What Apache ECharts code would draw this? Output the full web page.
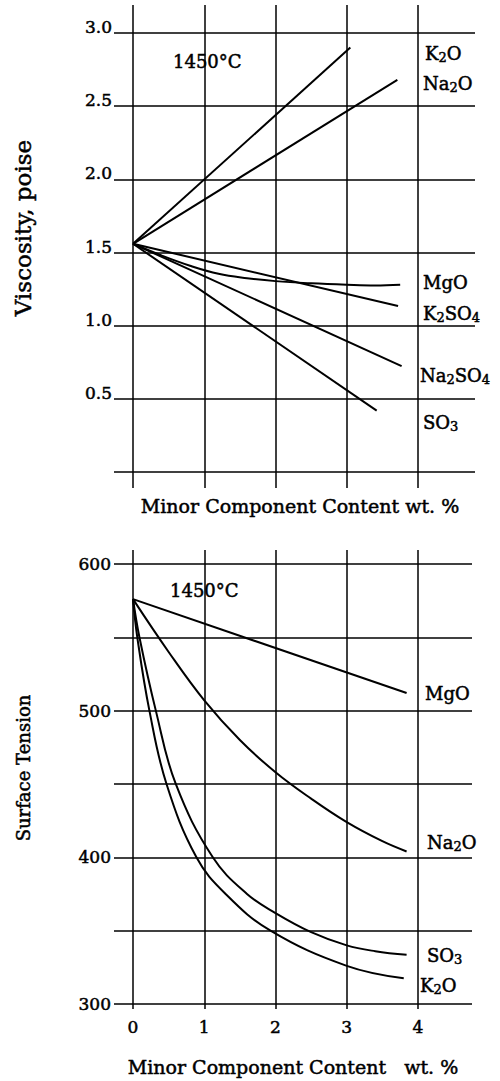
<!DOCTYPE html>
<html>
<head>
<meta charset="utf-8">
<title>Viscosity and surface tension vs minor component content</title>
<script src="https://cdn.jsdelivr.net/npm/echarts@6/dist/echarts.min.js"></script>
<style>
  html, body { margin: 0; padding: 0; background: #fff; }
  #chart { width: 500px; height: 1081px; }
</style>
</head>
<body>
<div id="chart"></div>
<script>
// minor component content, wt. % (grid columns)
const contentTicks = [0, 1, 2, 3, 4];

// top chart: viscosity, poise (1450 C)
const viscGridTicks = [0, 0.5, 1.0, 1.5, 2.0, 2.5, 3.0];
const viscTickLabels = [0.5, 1.0, 1.5, 2.0, 2.5, 3.0];
const viscK2O = [[0, 1.56], [3.05, 2.90]];
const viscNa2O = [[0, 1.56], [3.71, 2.68]];
const viscMgO = [[0, 1.56], [0.4, 1.48], [0.8, 1.41], [1.2, 1.355], [1.6, 1.325], [2, 1.305], [2.5, 1.29], [3, 1.28], [3.4, 1.275], [3.75, 1.28]];
const viscK2SO4 = [[0, 1.56], [3.72, 1.135]];
const viscNa2SO4 = [[0, 1.56], [3.77, 0.725]];
const viscSO3 = [[0, 1.56], [3.42, 0.42]];

// bottom chart: surface tension (1450 C)
const tensionGridTicks = [300, 350, 400, 450, 500, 550, 600];
const tensionTickLabels = [300, 400, 500, 600];
const tensionMgO = [[0, 576], [3.84, 512]];
const tensionNa2O = [[0, 576], [0.5, 540], [1, 507], [1.5, 480], [2, 458], [2.5, 440], [3, 424], [3.5, 411], [3.84, 404]];
const tensionSO3 = [[0, 576], [0.09, 550], [0.32, 500], [0.6, 450], [1.12, 400], [1.6, 375], [2, 362], [2.5, 349], [3, 340], [3.4, 336], [3.84, 333.5]];
const tensionK2O = [[0, 576], [0.06, 550], [0.23, 500], [0.47, 450], [0.89, 400], [1.3, 375], [1.93, 350], [3, 326], [3.8, 317.5]];

const FONT = 'DejaVu Serif';
const gridLine = { color: '#000', width: 1.5 };
const curveLine = { color: '#000', width: 2 };
// a thin outline makes the serif text as dark as the printed original
const ink = { color: '#000', textBorderColor: '#000', textBorderWidth: 0.5 };

// chemical formula -> rich text with subscript digits
const formula = s => s.replace(/(\d)/g, '{s|$1}');
const subRich = { s: { fontFamily: FONT, fontSize: 13, lineHeight: 12, verticalAlign: 'bottom', fill: '#000', stroke: '#000', lineWidth: 0.5 } };

function curve(name, data, idx) {
  return {
    name, type: 'line', xAxisIndex: idx, yAxisIndex: idx, data,
    showSymbol: false, silent: true,
    smooth: data.length > 2 ? 0.4 : false,
    lineStyle: curveLine, z: 3
  };
}

function contentAxis(idx, max, withLabels, name, nameGap, namePad) {
  return {
    type: 'value', gridIndex: idx, min: -0.267, max,
    axisLine: { show: false },
    axisTick: { show: false, customValues: contentTicks },
    axisLabel: Object.assign({ show: withLabels, customValues: contentTicks, fontFamily: FONT, fontSize: 17, margin: 9 }, ink),
    splitLine: { show: true, lineStyle: gridLine },
    name, nameLocation: 'middle', nameGap,
    nameTextStyle: Object.assign({ fontFamily: FONT, fontSize: 19, padding: namePad }, ink)
  };
}

function text(str, x, y) {
  return {
    type: 'text', x, y, silent: true,
    style: { text: str, fill: '#000', stroke: '#000', lineWidth: 0.5, font: '18px "DejaVu Serif"', align: 'left', verticalAlign: 'middle', lineHeight: 22, rich: subRich }
  };
}

const chart = echarts.init(document.getElementById('chart'), null, { renderer: 'svg' });

chart.setOption({
  animation: false,
  backgroundColor: '#fff',
  grid: [
    { left: 114, right: 25, top: 5, bottom: 593, outerBoundsMode: 'none' },
    { left: 114, right: 28, top: 550, bottom: 72, outerBoundsMode: 'none' }
  ],
  xAxis: [
    contentAxis(0, 4.8, false, 'Minor Component Content wt. %', 8, [0, 0, 0, 11]),
    contentAxis(1, 4.758, true, 'Minor Component Content   wt. %', 48, [0, 0, 0, 0])
  ],
  yAxis: [
    {
      type: 'value', gridIndex: 0, min: -0.108, max: 3.191,
      axisLine: { show: false },
      axisTick: { show: false, customValues: viscGridTicks },
      axisLabel: Object.assign({
        customValues: viscTickLabels, formatter: v => v.toFixed(1),
        fontFamily: FONT, fontSize: 17, margin: 2, verticalAlign: 'bottom', lineHeight: 12
      }, ink),
      splitLine: { show: true, lineStyle: gridLine },
      name: 'Viscosity, poise', nameLocation: 'middle', nameGap: 80,
      nameTextStyle: Object.assign({ fontFamily: FONT, fontSize: 23, padding: [0, 0, 0, 37] }, ink)
    },
    {
      type: 'value', gridIndex: 1, min: 296.6, max: 609.5,
      axisLine: { show: false },
      axisTick: { show: false, customValues: tensionGridTicks },
      axisLabel: Object.assign({ customValues: tensionTickLabels, fontFamily: FONT, fontSize: 17, margin: 3 }, ink),
      splitLine: { show: true, lineStyle: gridLine },
      name: 'Surface Tension', nameLocation: 'middle', nameGap: 82,
      nameTextStyle: Object.assign({ fontFamily: FONT, fontSize: 18, padding: [0, 0, 0, 23] }, ink)
    }
  ],
  series: [
    curve('K2O', viscK2O, 0),
    curve('Na2O', viscNa2O, 0),
    curve('MgO', viscMgO, 0),
    curve('K2SO4', viscK2SO4, 0),
    curve('Na2SO4', viscNa2SO4, 0),
    curve('SO3', viscSO3, 0),
    curve('MgO', tensionMgO, 1),
    curve('Na2O', tensionNa2O, 1),
    curve('SO3', tensionSO3, 1),
    curve('K2O', tensionK2O, 1)
  ],
  graphic: [
    text('1450°C', 173, 61),
    text('1450°C', 170, 590),
    text(formula('K2O'), 425, 53),
    text(formula('Na2O'), 423, 83),
    text(formula('MgO'), 423, 282),
    text(formula('K2SO4'), 423, 313),
    text(formula('Na2SO4'), 420, 375),
    text(formula('SO3'), 423, 422),
    text(formula('MgO'), 425, 693),
    text(formula('Na2O'), 427, 842),
    text(formula('SO3'), 427, 955),
    text(formula('K2O'), 420, 985)
  ]
});
</script>
</body>
</html>
